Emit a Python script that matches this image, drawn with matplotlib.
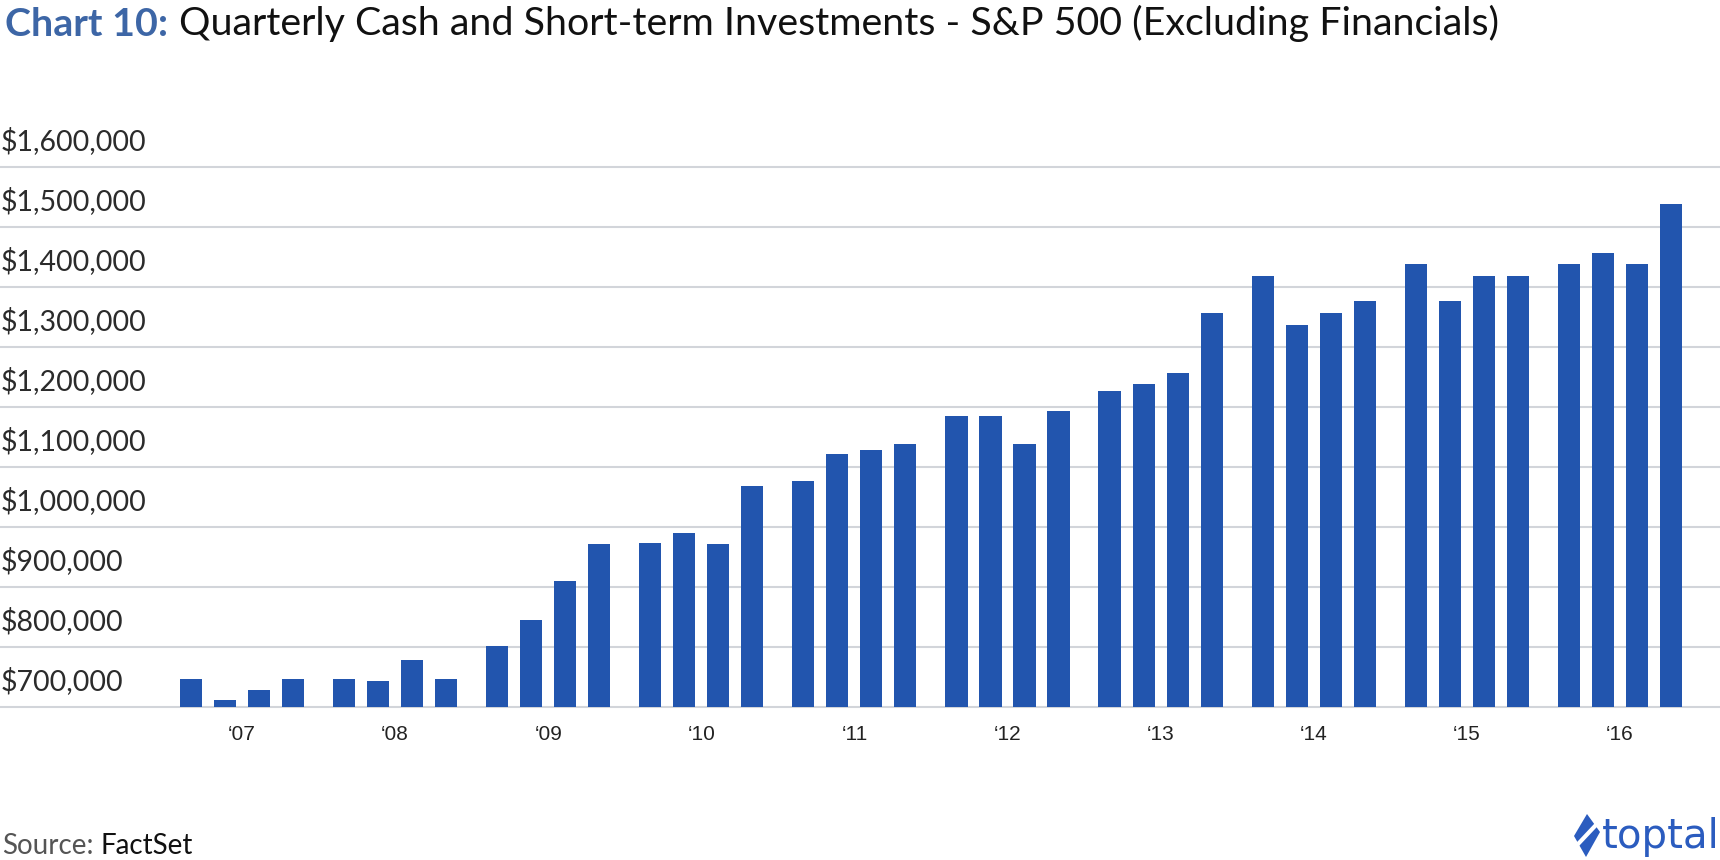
import numpy as np
import matplotlib
matplotlib.use("Agg")
import matplotlib.pyplot as plt
from matplotlib.patches import Polygon

# quarterly cash & short-term investments, one entry per year '07..'16
years = ["\u201807", "\u201808", "\u201809", "\u201810", "\u201811",
         "\u201812", "\u201813", "\u201814", "\u201815", "\u201816"]
q1 = [746000, 746000, 802000, 974000, 1077000, 1185000, 1227000, 1419000, 1438000, 1438000]
q2 = [711000, 743000, 845000, 990000, 1121000, 1185000, 1238000, 1337000, 1377000, 1457000]
q3 = [729000, 778000, 910000, 971000, 1128000, 1139000, 1257000, 1357000, 1419000, 1438000]
q4 = [746000, 746000, 971000, 1068000, 1139000, 1194000, 1357000, 1377000, 1419000, 1538000]
grid_vals = list(range(700000, 1600001, 100000))

W, H = 1720, 860
bar_color = "#2255AE"
grid_color = "#D2D5DA"

fig = plt.figure(figsize=(W / 100, H / 100), dpi=100)
ax = fig.add_axes([0, 1 - 710 / H, 1, (710 - 137) / H])

base = grid_vals[0]
year_step = 4.5
for qi, vals in enumerate([q1, q2, q3, q4]):
    x = np.arange(len(years)) * year_step + qi
    ax.bar(x, np.array(vals) - base, bottom=base, width=0.65,
           color=bar_color, zorder=2)

px = 34.02
ax.set_xlim(-191 / px, (W - 191) / px)
ax.set_ylim(695000, 1650000)

ax.set_yticks(grid_vals)
ax.tick_params(axis="y", length=0, labelleft=False)
ax.yaxis.grid(True, color=grid_color, linewidth=1.5)
ax.set_axisbelow(True)

for v in grid_vals:
    ax.annotate(f"${v:,}", xy=(0, v), xycoords=ax.get_yaxis_transform(),
                xytext=(1, 17), textcoords="offset pixels",
                ha="left", va="baseline", fontsize=20.5, family="Lato",
                color="#2b2b2b")

ax.set_xticks(np.arange(len(years)) * year_step + 1.5)
ax.set_xticklabels(years, family="Liberation Sans", fontsize=15, color="#222222")
ax.tick_params(axis="x", length=0, pad=11)

for s in ax.spines.values():
    s.set_visible(False)

# title
t1 = fig.text(5 / W, 1 - 36 / H, "Chart 10:", fontsize=28.4, fontweight="bold",
              family="Lato", color="#3D66A6", va="baseline")
ax.annotate("Quarterly Cash and Short-term Investments - S&P 500 (Excluding Financials)",
            xy=(1, 0), xycoords=t1, xytext=(11, 0), textcoords="offset pixels",
            fontsize=28.4, family="Lato", color="#111111", va="bottom")

# source
s1 = fig.text(2 / W, 1 - 854 / H, "Source:", fontsize=20, family="Lato",
              color="#555555", va="baseline")
ax.annotate("FactSet", xy=(1, 0), xycoords=s1, xytext=(7, 0),
            textcoords="offset pixels", fontsize=20, family="Lato",
            color="#111111", va="bottom")

# logo
logo_color = "#2B5CBF"
fig.text(1602 / W, 1 - 848 / H, "toptal", fontsize=29, family="DejaVu Sans",
         color=logo_color, va="baseline")
icon = [(1587, 814), (1600, 832), (1586, 857), (1574, 836)]
fig.add_artist(Polygon([(a / W, 1 - b / H) for a, b in icon], closed=True,
                       transform=fig.transFigure, facecolor=logo_color, edgecolor="none"))
fig.add_artist(plt.Line2D([1579 / W, 1595 / W], [1 - 843 / H, 1 - 826 / H],
                          transform=fig.transFigure, color="white", linewidth=3))

fig.savefig("out.png", dpi=100)
